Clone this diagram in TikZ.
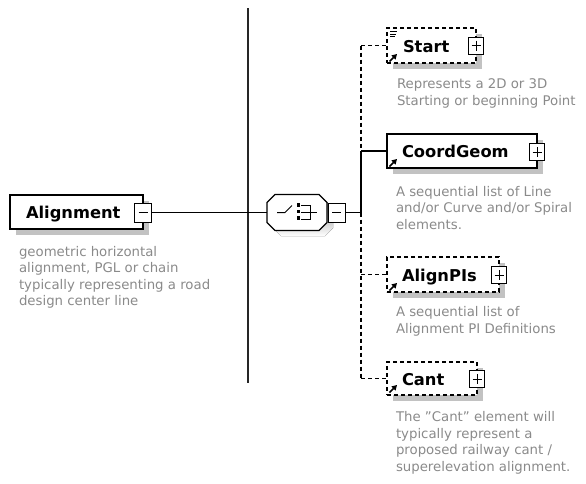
\documentclass[tikz,border=0pt]{standalone}
\usepackage{fontspec}
\setmainfont{DejaVu Sans}
\usetikzlibrary{arrows.meta,shadows}
\definecolor{desc}{RGB}{138,138,138}
\definecolor{shade}{RGB}{194,194,194}

\begin{document}
\begin{tikzpicture}[x=1pt,y=-1pt,line width=1.2pt,
  every node/.style={outer sep=0pt},
  shadowed/.style={drop shadow={shadow xshift=6pt,shadow yshift=-6pt,fill=shade,opacity=1}},
  elbox/.style={draw=black,fill=white,line width=1.2pt,shadowed,anchor=north west,inner sep=0pt},
  optbox/.style={elbox,dash pattern=on 4pt off 3pt},
  optline/.style={dash pattern=on 4pt off 3pt},
  pmbox/.style={draw=black,fill=white,line width=1pt,minimum width=15pt,minimum height=17pt,inner sep=0pt},
  title/.style={font=\fontsize{16.3}{18}\selectfont\bfseries,anchor=base west,inner sep=0pt},
  desctext/.style={font=\fontsize{13.3}{16.6}\selectfont,text=desc,align=left,anchor=north west,inner sep=0pt},
  refarrow/.style={line width=1.6pt,-{Triangle[length=5pt,width=5.5pt]}}]

\useasboundingbox (0,0) rectangle (586,483);

% root element
\node[elbox,minimum width=133pt,minimum height=34pt] (alignment) at (10,195) {};
\node[title] (alignmentT) at (26,218) {Alignment};
\node[pmbox,minimum width=17pt,minimum height=19pt] (amin) at (143,212.5) {};
\draw[line width=1pt] (amin.center) +(-4.5,0) -- +(4.5,0);
\node[desctext] (alignmentD) at (19,246) {geometric horizontal\\alignment, PGL or chain\\typically representing a road\\design center line};

% separator bar
\coordinate (vtop) at (248,8);
\coordinate (vbot) at (248,383);
\draw[line width=1.4pt,black!85] (vtop) -- (vbot);

% sequence compositor (octagon with shadow)
\fill[shade] (281,200) -- (325,200) -- (333,208) -- (333,228) -- (325,236) -- (281,236) -- (273,228) -- (273,208) -- cycle;
\draw[fill=white] (275,194.5) -- (319,194.5) -- (327,202.5) -- (327,222.5) -- (319,230.5) -- (275,230.5) -- (267,222.5) -- (267,202.5) -- cycle;
\node[minimum width=60pt,minimum height=36pt,inner sep=0pt] (seq) at (297,212.5) {};
\node[pmbox,minimum width=17pt,minimum height=19pt] (smin) at (336.5,212.5) {};
\draw[line width=1pt] (smin.center) +(-4.5,0) -- +(4.5,0);
\draw (amin.east) -- (seq.west);
% sequence glyph
\draw[line width=1pt] (277,212.5) -- (285,212.5) -- (292,205.5);
\fill (297,203) rectangle (300,206.5);
\fill (297,209.5) rectangle (300,213);
\fill (297,216) rectangle (300,219.5);
\draw[line width=1pt] (301,205.5) -- (310,205.5) -- (310,219.5) -- (301,219.5);
\draw[line width=1pt] (301,212.5) -- (317,212.5);

% branch points
\coordinate (br) at (361,212.5);
\coordinate (bStart) at (361,45.5);
\coordinate (bCoord) at (361,151);
\coordinate (bAlign) at (361,274.5);
\coordinate (bCant) at (361,378.5);
\draw (smin.east) -- (br);
\draw[optline] (bStart) -- (bCoord);
\draw (bCoord) -- (br);
\draw[optline] (br) -- (bAlign) -- (bCant);

% Start
\node[optbox,minimum width=89pt,minimum height=35pt] (start) at (387,28) {};
\draw[optline] (bStart) -- (start.west);
\node[title] (startT) at (403,52) {Start};
\node[pmbox] (splus) at (476,45.5) {};
\draw[line width=1pt] (splus.center) +(-4.5,0) -- +(4.5,0) (splus.center) +(0,-5) -- +(0,5);
\draw[line width=0.9pt] (390,31.5) -- (397,31.5) (390,34) -- (396,34) (390,36.5) -- (395,36.5);
\draw[refarrow] (389.5,61.5) -- (397,54);
\node[desctext] (startD) at (397,79) {Represents a 2D or 3D\\Starting or beginning Point};

% CoordGeom
\node[elbox,minimum width=150pt,minimum height=34pt] (coord) at (387,134) {};
\draw (bCoord) -- (coord.west);
\node[title] (coordT) at (402,157) {CoordGeom};
\node[pmbox] (cplus) at (537,152) {};
\draw[line width=1pt] (cplus.center) +(-4.5,0) -- +(4.5,0) (cplus.center) +(0,-5) -- +(0,5);
\draw[refarrow] (389.5,166.5) -- (397,159);
\node[desctext] (coordD) at (396,186) {A sequential list of Line\\and/or Curve and/or Spiral\\elements.};

% AlignPIs
\node[optbox,minimum width=112pt,minimum height=35pt] (apis) at (387,257) {};
\draw[optline] (bAlign) -- (apis.west);
\node[title] (apisT) at (402,281) {AlignPIs};
\node[pmbox] (aplus) at (499,275) {};
\draw[line width=1pt] (aplus.center) +(-4.5,0) -- +(4.5,0) (aplus.center) +(0,-5) -- +(0,5);
\draw[refarrow] (389.5,290.5) -- (397,283);
\node[desctext] (apisD) at (396,306.5) {A sequential list of\\Alignment PI Definitions};

% Cant
\node[optbox,minimum width=90pt,minimum height=33pt] (cant) at (387,362) {};
\draw[optline] (bCant) -- (cant.west);
\node[title] (cantT) at (402,385) {Cant};
\node[pmbox] (ctplus) at (477,379) {};
\draw[line width=1pt] (ctplus.center) +(-4.5,0) -- +(4.5,0) (ctplus.center) +(0,-5) -- +(0,5);
\draw[refarrow] (389.5,392.5) -- (397,385);
\node[desctext] (cantD) at (396,411.5) {The \symbol{34}Cant\symbol{34} element will\\typically represent a\\proposed railway cant /\\superelevation alignment.};

\end{tikzpicture}
\end{document}
